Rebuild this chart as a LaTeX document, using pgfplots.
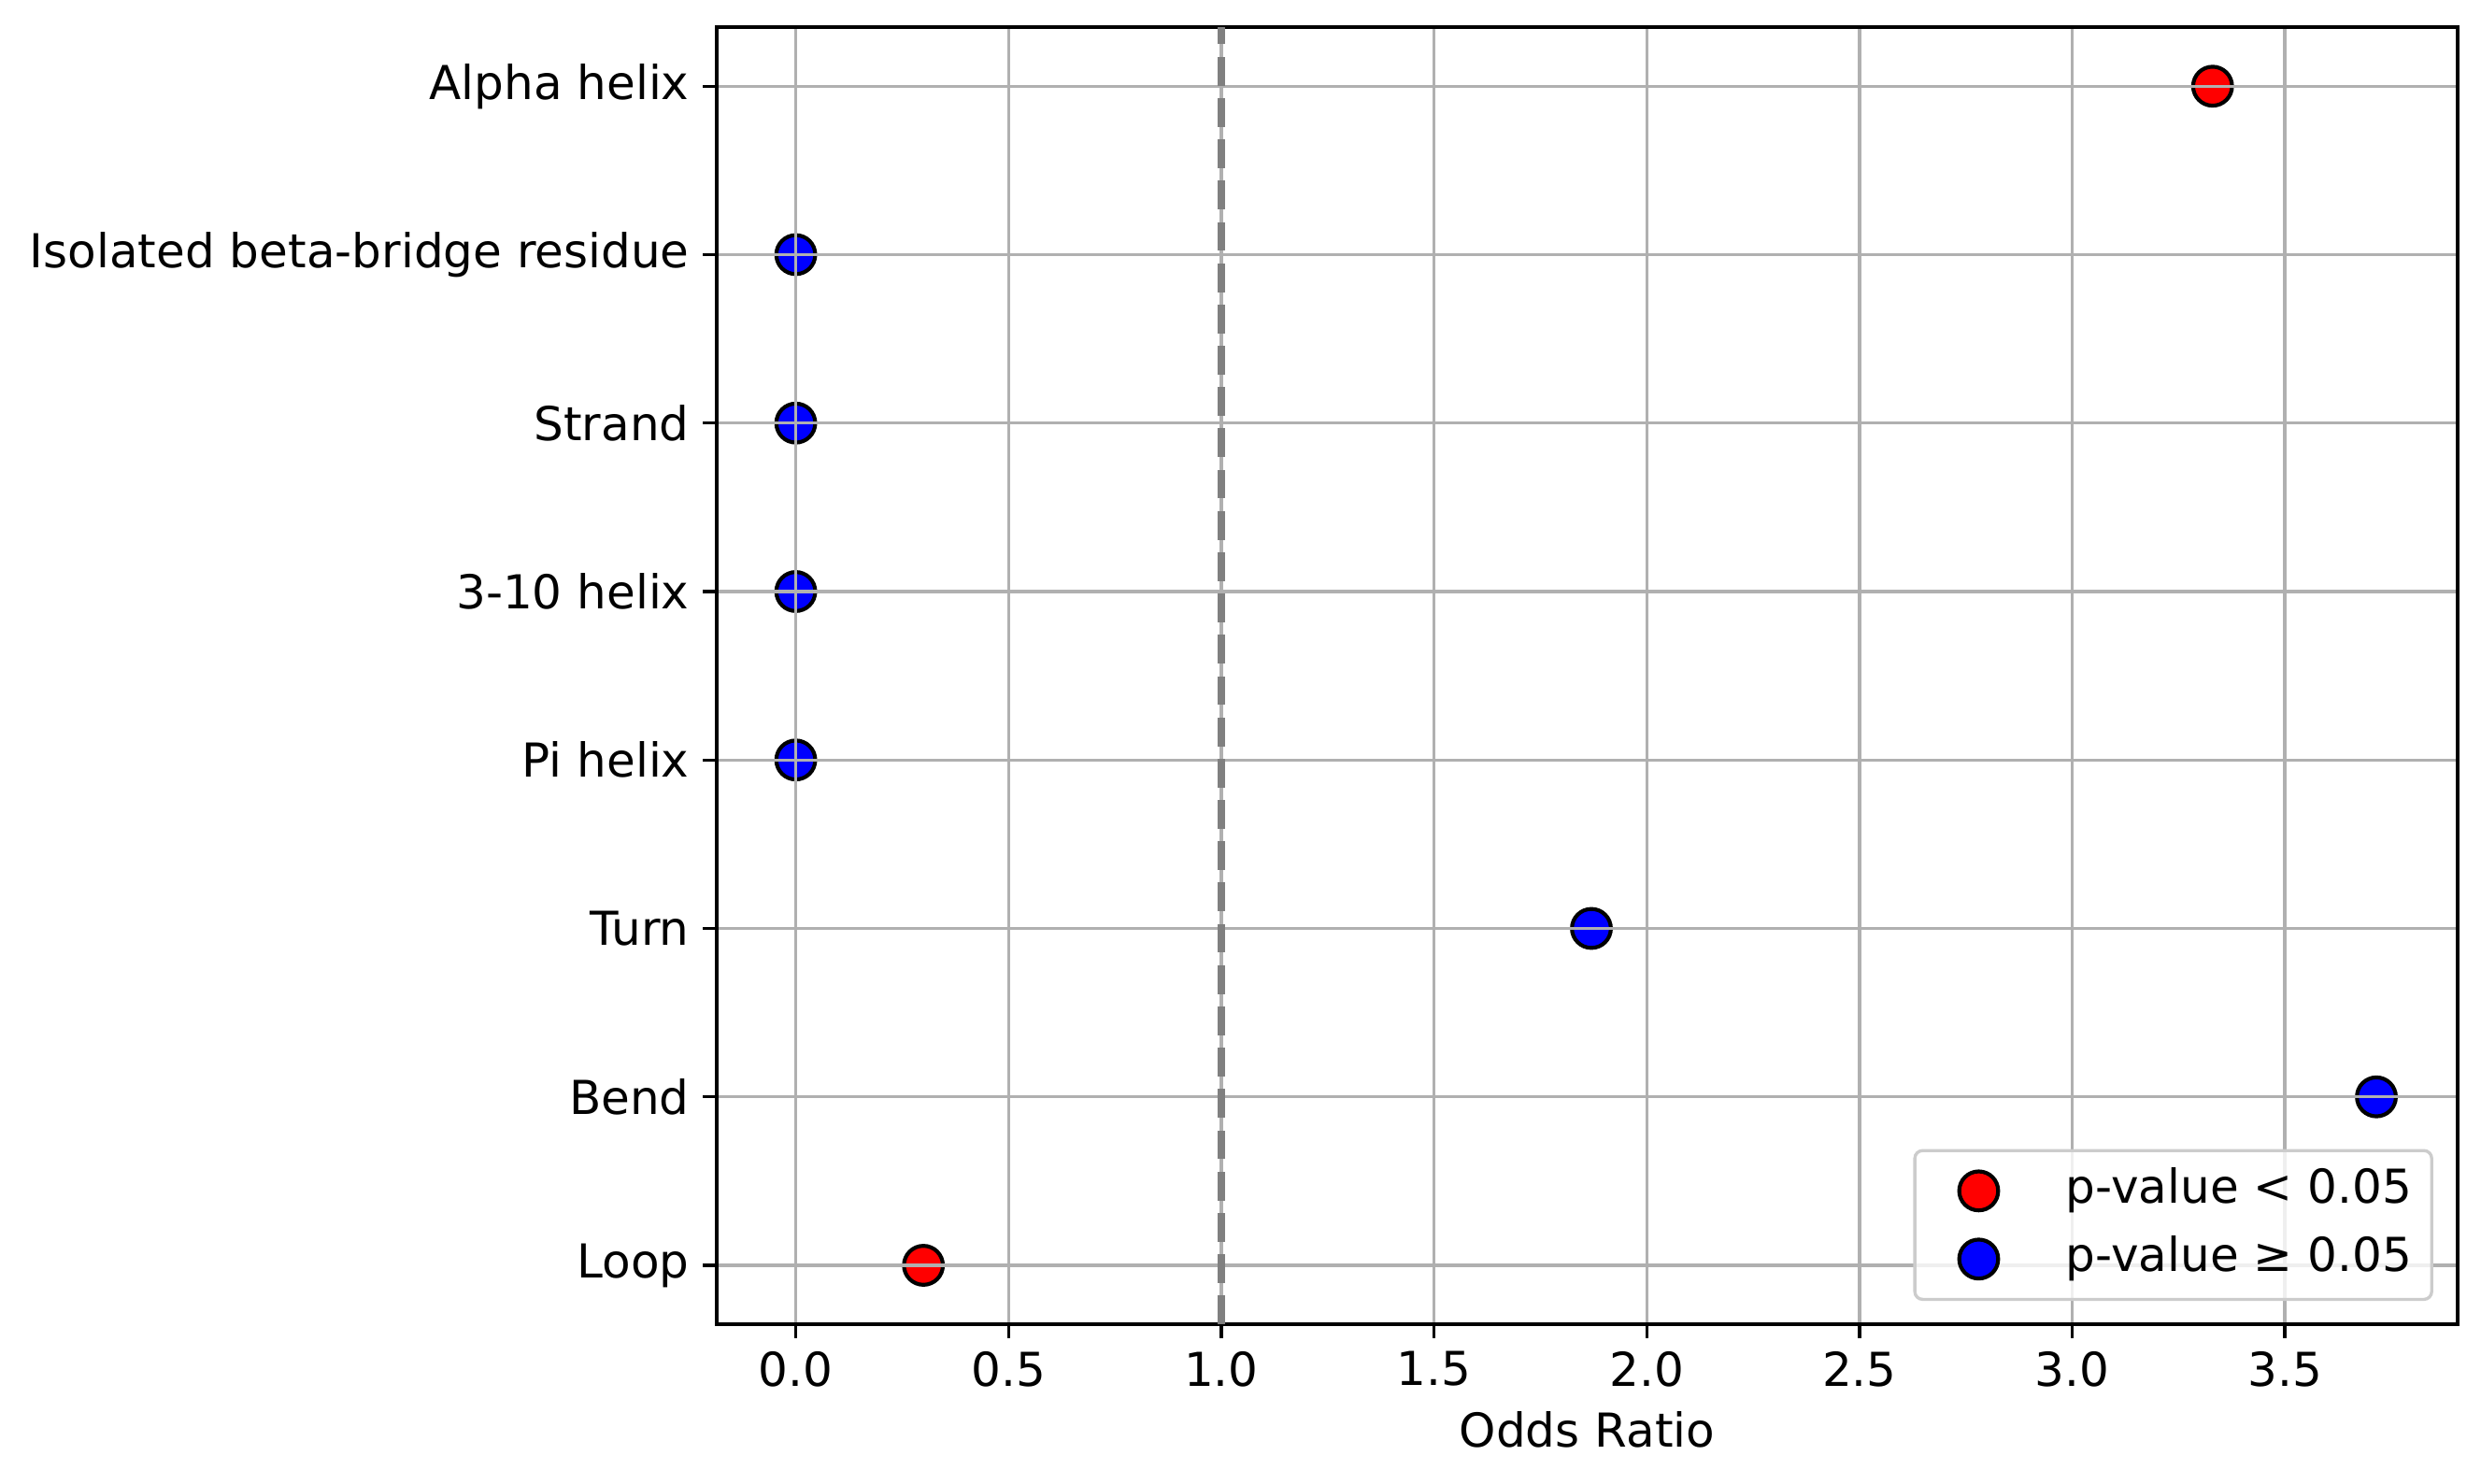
\documentclass[border=0pt]{standalone}
\usepackage{fontspec}
\setmainfont{DejaVu Sans}
\usepackage{pgfplots}
\pgfplotsset{compat=1.18}
\definecolor{gridgray}{HTML}{B0B0B0}
\definecolor{legframe}{HTML}{CCCCCC}
\definecolor{mplred}{HTML}{FF0000}
\definecolor{mplblue}{HTML}{0000FF}
\definecolor{dashgray}{HTML}{808080}
\begin{document}
\begin{tikzpicture}
\begin{axis}[
  scale only axis, width=447pt, height=333pt,
  xmin=-0.186, xmax=3.906, ymin=-0.35, ymax=7.35,
  xtick={0,0.5,1,1.5,2,2.5,3,3.5},
  xticklabel style={/pgf/number format/.cd, fixed, fixed zerofill, precision=1},
  ytick={0,1,2,3,4,5,6,7},
  yticklabels={Loop,Bend,Turn,Pi helix,3-10 helix,Strand,Isolated beta-bridge residue,Alpha helix},
  /pgf/number format/assume math mode=true,
  ticklabel style={font=\fontsize{12}{14}\selectfont},
  tick align=outside, major tick length=3.5pt,
  tick style={black, line width=0.8pt},
  xtick pos=bottom, ytick pos=left,
  grid=major, grid style={gridgray, line width=0.8pt},
  axis line style={line width=0.8pt},
  set layers, axis on top,
  xlabel={Odds Ratio},
  xlabel style={font=\fontsize{12}{14}\selectfont, at={(axis description cs:0.5,0)}, anchor=center, yshift=-27pt},
  legend cell align=left,
  legend style={at={(axis description cs:0.986,0.018)}, anchor=south east,
    draw=legframe, line width=0.8pt, rounded corners=2pt, fill=white, fill opacity=0.8, text opacity=1,
    font=\fontsize{12}{14}\selectfont, inner xsep=1.1pt, inner ysep=3.6pt, row sep=4pt,
    nodes={inner xsep=4pt, inner ysep=1pt, text height=9pt, text depth=2.5pt}},
  legend image code/.code={\path (0pt,0pt) (32.9pt,0pt); \draw[#1, opacity=1, fill opacity=1, draw opacity=1] plot coordinates {(14.9pt,0pt)};},
]
\addplot[only marks, mark=*, mark size=5pt, mark options={draw=black, fill=mplred, line width=1pt}]
  coordinates {(3.33,7) (0.30,0)};
\addlegendentry{p-value < 0.05}
\addplot[only marks, mark=*, mark size=5pt, mark options={draw=black, fill=mplblue, line width=1pt}]
  coordinates {(0,6) (0,5) (0,4) (0,3) (1.87,2) (3.715,1)};
\addlegendentry{p-value ≥ 0.05}
\addplot[on layer=axis foreground, dashgray, line width=2pt, dash pattern=on 7.4pt off 3.2pt, forget plot]
  coordinates {(1,-0.35) (1,7.35)};
\end{axis}
\pgfresetboundingbox
\path[use as bounding box] ([shift={(-184pt,-41pt)}]current axis.south west) rectangle ([shift={(6pt,7pt)}]current axis.north east);
\end{tikzpicture}
\end{document}
